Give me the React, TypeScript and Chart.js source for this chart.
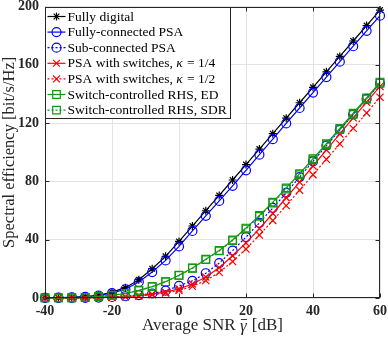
import React, { useEffect, useRef } from "react";
import { Chart, registerables } from "chart.js";

Chart.register(...registerables);

const snrDb = [-40, -36, -32, -28, -24, -20, -16, -12, -8, -4, 0, 4, 8, 12, 16, 20, 24, 28, 32, 36, 40, 44, 48, 52, 56, 60];

const fullyDigital = [0.1, 0.2, 0.4, 0.9, 1.9, 4.0, 7.1, 12.6, 20.1, 28.6, 38.8, 49.4, 59.9, 70.4, 81.0, 91.6, 102.2, 112.8, 123.4, 134.0, 144.6, 155.2, 165.8, 176.4, 187.0, 197.6];
const fullyConnected = [0.1, 0.2, 0.4, 0.8, 1.7, 3.4, 6.0, 11.0, 17.8, 25.8, 35.4, 46.0, 56.4, 66.6, 77.0, 87.6, 98.4, 109.0, 119.8, 130.4, 141.0, 151.6, 162.2, 172.8, 183.4, 193.8];
const subConnected = [0.02, 0.04, 0.08, 0.15, 0.3, 0.7, 1.2, 2.0, 3.1, 5.0, 8.3, 11.8, 17.0, 24.0, 32.5, 41.8, 51.6, 61.8, 72.2, 83.0, 93.8, 104.6, 115.4, 126.0, 136.6, 147.4];
const switchesQuarter = [0.02, 0.04, 0.07, 0.14, 0.28, 0.5, 0.9, 1.6, 2.6, 4.0, 6.3, 9.6, 14.4, 20.8, 29.0, 37.8, 47.6, 58.0, 68.8, 79.6, 90.6, 101.6, 112.6, 123.6, 134.4, 145.2];
const switchesHalf = [0.02, 0.03, 0.06, 0.12, 0.24, 0.45, 0.8, 1.4, 2.2, 3.4, 5.2, 8.0, 12.0, 17.6, 25.0, 33.6, 43.2, 53.2, 63.4, 74.0, 84.6, 95.2, 105.8, 116.4, 127.0, 137.8];
const rhsEd = [0.05, 0.1, 0.2, 0.4, 0.9, 1.8, 3.1, 5.2, 7.8, 11.2, 15.6, 20.6, 26.6, 32.6, 39.8, 48.0, 56.6, 65.8, 75.6, 85.4, 95.6, 106.0, 116.4, 126.8, 137.4, 148.2];
const rhsSdr = [0.05, 0.1, 0.2, 0.4, 0.9, 1.8, 3.1, 5.2, 7.8, 11.2, 15.5, 20.4, 26.3, 32.3, 39.4, 47.4, 56.0, 65.2, 74.8, 84.6, 94.8, 105.2, 115.6, 126.0, 136.6, 147.4];

const seriesLabels = [
  "Fully digital",
  "Fully-connected PSA",
  "Sub-connected PSA",
  "PSA with switches, κ = 1/4",
  "PSA with switches, κ = 1/2",
  "Switch-controlled RHS, ED",
  "Switch-controlled RHS, SDR",
];

const xTicks = [-40, -20, 0, 20, 40, 60];
const yTicks = [0, 40, 80, 120, 160, 200];
const xTitleParts = ["Average SNR ", "γ", " [dB]"];
const yTitle = "Spectral efficiency [bit/s/Hz]";

const BLACK = "#000000";
const BLUE = "#0000ff";
const RED = "#ff0000";
const GREEN = "#119911";
const AXIS = "#262626";
const SERIF = '"Liberation Serif", "Times New Roman", serif';

type Style = { color: string; marker: string; radius: number; dashed: boolean };
const styles: Style[] = [
  { color: BLACK, marker: "star", radius: 4, dashed: false },
  { color: BLUE, marker: "circle", radius: 4.5, dashed: false },
  { color: BLUE, marker: "circle", radius: 4.5, dashed: true },
  { color: RED, marker: "crossRot", radius: 5, dashed: false },
  { color: RED, marker: "crossRot", radius: 5, dashed: true },
  { color: GREEN, marker: "rect", radius: 5.4, dashed: false },
  { color: GREEN, marker: "rect", radius: 5.4, dashed: true },
];
const seriesData = [fullyDigital, fullyConnected, subConnected, switchesQuarter, switchesHalf, rhsEd, rhsSdr];

function drawMarker(ctx: CanvasRenderingContext2D, kind: string, x: number, y: number, color: string) {
  ctx.save();
  ctx.setLineDash([]);
  ctx.strokeStyle = color;
  ctx.lineWidth = 1.2;
  ctx.beginPath();
  if (kind === "circle") {
    ctx.arc(x, y, 4.5, 0, Math.PI * 2);
  } else if (kind === "rect") {
    ctx.rect(x - 3.8, y - 3.8, 7.6, 7.6);
  } else if (kind === "crossRot") {
    const d = 3.4;
    ctx.moveTo(x - d, y - d); ctx.lineTo(x + d, y + d);
    ctx.moveTo(x + d, y - d); ctx.lineTo(x - d, y + d);
  } else {
    const r = 4; const d = r * Math.SQRT1_2;
    ctx.moveTo(x - r, y); ctx.lineTo(x + r, y);
    ctx.moveTo(x, y - r); ctx.lineTo(x, y + r);
    ctx.moveTo(x - d, y - d); ctx.lineTo(x + d, y + d);
    ctx.moveTo(x + d, y - d); ctx.lineTo(x - d, y + d);
  }
  ctx.stroke();
  ctx.restore();
}

const framePlugin = {
  id: "frameAndLegend",
  afterDatasetsDraw(chart: any) {
    const { ctx, chartArea: a, scales } = chart;
    const L = Math.round(a.left) + 0.5;
    const R = Math.round(a.right) - 0.5;
    const T = Math.round(a.top) + 0.5;
    const B = Math.round(a.bottom) - 0.5;
    ctx.save();
    ctx.strokeStyle = AXIS;
    ctx.lineWidth = 1;
    ctx.setLineDash([]);
    ctx.strokeRect(L, T, R - L, B - T);
    ctx.beginPath();
    const tl = 4;
    for (const v of xTicks) {
      const px = Math.round(scales.x.getPixelForValue(v)) + 0.5;
      ctx.moveTo(px, B); ctx.lineTo(px, B - tl);
      ctx.moveTo(px, T); ctx.lineTo(px, T + tl);
    }
    for (const v of yTicks) {
      const py = Math.round(scales.y.getPixelForValue(v)) + 0.5;
      ctx.moveTo(L, py); ctx.lineTo(L + tl, py);
      ctx.moveTo(R, py); ctx.lineTo(R - tl, py);
    }
    ctx.stroke();

    // x axis title with italic gamma and overline
    ctx.fillStyle = AXIS;
    ctx.textBaseline = "middle";
    ctx.textAlign = "left";
    const fN = `17px ${SERIF}`;
    const fI = `italic 17px ${SERIF}`;
    ctx.font = fN;
    const w0 = ctx.measureText(xTitleParts[0]).width;
    const w2 = ctx.measureText(xTitleParts[2]).width;
    ctx.font = fI;
    const w1 = ctx.measureText(xTitleParts[1]).width + 1;
    const cx = (a.left + a.right) / 2;
    const ty = 326;
    let tx = cx - (w0 + w1 + w2) / 2;
    ctx.font = fN;
    ctx.fillText(xTitleParts[0], tx, ty);
    tx += w0;
    ctx.font = fI;
    ctx.fillText(xTitleParts[1], tx, ty + 1);
    ctx.beginPath();
    ctx.lineWidth = 0.9;
    ctx.strokeStyle = AXIS;
    ctx.moveTo(tx + 1, ty - 6.5);
    ctx.lineTo(tx + w1 - 0.5, ty - 6.5);
    ctx.stroke();
    tx += w1;
    ctx.font = fN;
    ctx.fillText(xTitleParts[2], tx, ty);

    // legend
    const bx = L, by = T, bw = 185, bh = 111;
    ctx.fillStyle = "#ffffff";
    ctx.fillRect(bx, by, bw, bh);
    ctx.lineWidth = 1;
    ctx.strokeStyle = AXIS;
    ctx.strokeRect(bx, by, bw, bh);
    seriesLabels.forEach((label, i) => {
      const st = styles[i];
      const y = by + 9 + i * 15.6;
      ctx.save();
      ctx.strokeStyle = st.color;
      ctx.lineWidth = 1.2;
      ctx.setLineDash(st.dashed ? [2, 2] : []);
      ctx.beginPath();
      ctx.moveTo(bx + 2, y);
      ctx.lineTo(bx + 20, y);
      ctx.stroke();
      ctx.restore();
      drawMarker(ctx, st.marker, bx + 11, y, st.color);
      ctx.fillStyle = "#000000";
      ctx.textBaseline = "middle";
      ctx.textAlign = "left";
      let lx = bx + 22;
      const parts = label.split("κ");
      parts.forEach((p, j) => {
        ctx.font = `13.5px ${SERIF}`;
        ctx.fillText(p, lx, y + 0.5);
        lx += ctx.measureText(p).width;
        if (j < parts.length - 1) {
          ctx.font = `italic 13.5px ${SERIF}`;
          ctx.fillText("κ", lx, y + 0.5);
          lx += ctx.measureText("κ").width + 1;
        }
      });
    });
    ctx.restore();
  },
};

export default function App() {
  const ref = useRef<HTMLCanvasElement | null>(null);
  useEffect(() => {
    if (!ref.current) return;
    const chart = new Chart(ref.current, {
      type: "line",
      data: {
        labels: snrDb,
        datasets: seriesData.map((d, i) => ({
          label: seriesLabels[i],
          data: d.map((v, k) => ({ x: snrDb[k], y: v })),
          borderColor: styles[i].color,
          backgroundColor: "transparent",
          borderWidth: 1.2,
          borderDash: styles[i].dashed ? [2, 2] : [],
          pointStyle: styles[i].marker as any,
          pointRadius: styles[i].radius,
          pointBorderWidth: 1.2,
          pointBorderColor: styles[i].color,
          pointBackgroundColor: "transparent",
          tension: 0,
          clip: false as any,
          order: 7 - i,
        })),
      },
      options: {
        responsive: false,
        animation: false,
        layout: { padding: { left: 0, top: 6, right: 8, bottom: 0 } },
        plugins: { legend: { display: false }, tooltip: { enabled: false } },
        scales: {
          x: {
            type: "linear",
            min: -40,
            max: 60,
            afterFit: (s: any) => { s.height = 39; s.paddingLeft = 0; s.paddingRight = 0; },
            afterBuildTicks: (s: any) => { s.ticks = xTicks.map((v) => ({ value: v })); },
            grid: { color: "#e3e3e3", drawTicks: false, lineWidth: 1 },
            border: { display: false },
            ticks: { color: AXIS, padding: 5, font: { family: SERIF, size: 14, weight: "bold" }, maxRotation: 0 },
            title: { display: false },
          },
          y: {
            type: "linear",
            min: 0,
            max: 200,
            afterFit: (s: any) => { s.width = 45; s.paddingTop = 0; s.paddingBottom = 0; },
            afterBuildTicks: (s: any) => { s.ticks = yTicks.map((v) => ({ value: v })); },
            grid: { color: "#e3e3e3", drawTicks: false, lineWidth: 1 },
            border: { display: false },
            ticks: { color: AXIS, padding: 6, font: { family: SERIF, size: 14, weight: "bold" } },
            title: { display: true, text: yTitle, color: AXIS, padding: { top: 0, bottom: 0 }, font: { family: SERIF, size: 16.5 } },
          },
        },
      },
      plugins: [framePlugin],
    } as any);
    return () => chart.destroy();
  }, []);
  return (
    <div style={{ position: "fixed", left: 0, top: 0, width: 388, height: 337, background: "#fff" }}>
      <canvas ref={ref} width={388} height={337} style={{ display: "block" }} />
    </div>
  );
}
